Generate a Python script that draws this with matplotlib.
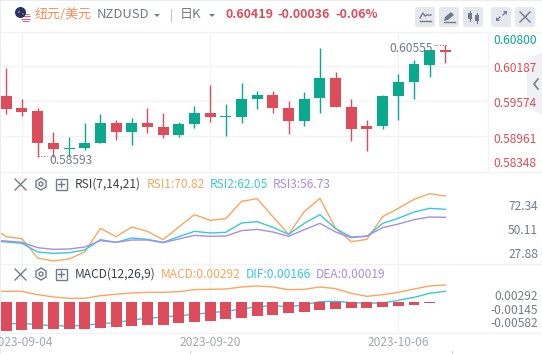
import numpy as np
import matplotlib
matplotlib.use("Agg")
import matplotlib.pyplot as plt
from matplotlib.patches import Circle, FancyBboxPatch, Polygon, Rectangle

plt.rcParams['font.family'] = ['Noto Sans CJK SC', 'DejaVu Sans']

# candles, index 0 is the first one on screen
opens  = [0.59667,0.59457,0.59405,0.58844,0.58739,0.58757,0.58844,0.59195,0.59037,0.59195,
          0.59125,0.58984,0.59177,0.59370,0.59300,0.59300,0.59615,0.59685,0.59457,0.59230,
          0.59632,0.59983,0.59475,0.59142,0.59142,0.59667,0.59913,0.60210,0.60473]
closes = [0.59440,0.59387,0.58844,0.58739,0.58757,0.58844,0.59195,0.59037,0.59195,0.59125,
          0.58984,0.59177,0.59370,0.59300,0.59317,0.59615,0.59685,0.59457,0.59230,0.59615,
          0.59983,0.59475,0.59090,0.59090,0.59667,0.59913,0.60228,0.60473,0.60438]
highs  = [0.60158,0.59615,0.59457,0.59037,0.58949,0.59195,0.59352,0.59247,0.59282,0.59457,
          0.59370,0.59212,0.59492,0.59860,0.59527,0.59895,0.59755,0.59755,0.59580,0.59737,
          0.60508,0.60088,0.59615,0.59247,0.59685,0.60053,0.60298,0.60473,0.60555]
lows   = [0.59352,0.59317,0.58593,0.58593,0.58593,0.58722,0.58844,0.58897,0.58809,0.59019,
          0.58932,0.58949,0.59107,0.59212,0.58967,0.59195,0.59440,0.59370,0.59002,0.59142,
          0.59370,0.59475,0.58879,0.58704,0.59090,0.59247,0.59615,0.60000,0.60245]

# the first entry of each line is the day just left of the screen
rsi1 = [53.76,44.63,42.80,25.14,22.40,24.23,30.62,52.24,44.63,53.46,49.50,41.89,53.46,64.73,59.55,
        61.07,76.91,79.34,62.90,46.76,67.47,79.65,52.24,40.06,42.19,62.90,70.51,78.73,83.91,81.78]
rsi2 = [40.97,39.76,38.54,30.62,29.40,30.01,32.45,41.89,39.45,43.41,42.19,39.45,44.63,49.50,47.98,
        48.59,57.11,58.33,53.16,46.76,56.81,64.73,51.94,44.32,44.93,56.81,61.38,67.16,70.51,69.60]
rsi3 = [41.58,40.67,39.45,34.58,33.06,33.36,35.19,40.98,39.45,41.58,41.58,39.15,42.50,45.85,44.93,
        45.24,50.11,51.33,48.89,44.93,51.02,56.81,48.89,43.72,45.24,52.85,56.20,60.16,62.59,62.29]

macd_line = [0.00179,0.00179,0.00179,0.00123,0.00084,0.00062,0.00062,0.00106,0.00129,0.00151,
             0.00162,0.00162,0.00174,0.00207,0.00213,0.00218,0.00252,0.00269,0.00252,0.00207,
             0.00213,0.00252,0.00224,0.00146,0.00095,0.00123,0.00162,0.00218,0.00269,0.00286]
dif_line  = [-0.00386,-0.00370,-0.00358,-0.00381,-0.00398,-0.00403,-0.00392,-0.00364,-0.00347,-0.00302,
             -0.00274,-0.00252,-0.00230,-0.00207,-0.00179,-0.00157,-0.00118,-0.00078,-0.00062,-0.00078,
             -0.00050,0.00006,0.00011,-0.00011,-0.00022,-0.00017,0.00028,0.00078,0.00146,0.00179]
macd_bars = [-0.00487,-0.00470,-0.00454,-0.00454,-0.00454,-0.00454,-0.00437,-0.00420,-0.00403,-0.00386,
             -0.00386,-0.00353,-0.00336,-0.00319,-0.00286,-0.00269,-0.00235,-0.00218,-0.00185,-0.00168,
             -0.00134,-0.00118,-0.00101,-0.00101,-0.00084,-0.00067,-0.00050,-0.00017,0.00003]

price_grid = [0.60187,0.59574,0.58961]
price_labels = ["0.60800","0.60187","0.59574","0.58961","0.58348"]
rsi_labels = ["72.34","50.11","27.88"]
macd_labels = ["0.00292","-0.00145","-0.00582"]
date_idx = [1,13,25]
date_labels = ["2023-09-04","2023-09-20","2023-10-06"]

RED = '#dc4c5a'
GREEN = '#0aa88c'
ORANGE = '#fba65a'
CYAN = '#35c8e0'
PURPLE = '#a98ce6'
GRID = '#f1f3f7'
GREY = '#757a8a'
W, H = 542, 354

fig = plt.figure(figsize=(W/100, H/100), dpi=100, facecolor='white')

def panel(top, bottom):
    a = fig.add_axes([1/W, 1-bottom/H, 487/W, (bottom-top)/H])
    a.set_xlim(-0.338, 30.72)
    a.set_xticks(date_idx)
    a.set_xticklabels([])
    a.tick_params(length=0)
    a.grid(True, axis='x', color=GRID, lw=1)
    a.set_axisbelow(True)
    for s in a.spines.values():
        s.set_visible(False)
    return a

ax_k = panel(32, 171)
ax_k.set_ylim(0.58354, 0.60788)
ax_k.set_yticks(price_grid)
ax_k.set_yticklabels([])
ax_k.grid(True, axis='y', color=GRID, lw=1)
x = np.arange(len(opens))
for i in x:
    col = GREEN if closes[i] >= opens[i] else RED
    ax_k.plot([i, i], [lows[i], highs[i]], color=col, lw=1, solid_capstyle='butt')
    bot = min(opens[i], closes[i])
    ax_k.bar(i, max(abs(closes[i]-opens[i]), 0.00006), 0.7, bot, color=col, lw=0)

ax_r = panel(172, 263)
ax_r.set_ylim(20.58, 103.7)
ax_r.set_yticks([])
xl = np.arange(-1, 29)
ax_r.plot(xl, rsi1, color=ORANGE, lw=1)
ax_r.plot(xl, rsi2, color=CYAN, lw=1)
ax_r.plot(xl, rsi3, color=PURPLE, lw=1)

ax_m = panel(264, 332)
ax_m.set_ylim(-0.00504, 0.00638)
ax_m.set_yticks([])
ax_m.plot(xl, macd_line, color=ORANGE, lw=1, zorder=2)
ax_m.plot(xl, dif_line, color=CYAN, lw=1, zorder=2)
ax_m.bar(x, macd_bars, 0.7, color=[GREEN if v > 0 else RED for v in macd_bars], lw=0, zorder=3)

# pixel overlay for header, axis text and buttons
ov = fig.add_axes([0, 0, 1, 1], facecolor='none')
ov.set_xlim(0, W)
ov.set_ylim(H, 0)
ov.axis('off')

def txt(px, py, s, c=GREY, fs=8.6, ha='left', **kw):
    ov.text(px, py, s, color=c, fontsize=fs, ha=ha, va='center', **kw)

ov.add_patch(Rectangle((0, 0), 1, H, color='#e9ecf3', lw=0))
ov.add_patch(Rectangle((0, 0), W, 1, color='#e9ecf3', lw=0))
for yy in (32, 171.5, 263.5, 332.5):
    ov.plot([1, W], [yy, yy], color=GRID, lw=1)
ov.plot([488, 488], [32, 171.5], color=GRID, lw=1)

# flag
us = Circle((26, 18), 5, color='white', lw=0)
ov.add_patch(us)
for sy in (13.5, 16, 18.5, 21):
    r = Rectangle((20, sy), 12, 1.3, color='#e8607a', lw=0)
    ov.add_patch(r)
    r.set_clip_path(us)
ov.add_patch(Circle((20.5, 12.5), 5.5, color='#1f3566', lw=0))
ov.add_patch(Circle((19, 12), 1.3, color='#d9485a', lw=0))
ov.add_patch(Circle((23, 14), 0.8, color='#e8707a', lw=0))

txt(35, 14.5, "纽元/美元", '#fb8c5a', 9.4)
txt(97, 14.5, "NZDUSD", GREY, 9.4)
ov.add_patch(Polygon([[154, 14], [160, 14], [157, 17]], color=GREY, lw=0))
ov.plot([170.5, 170.5], [9, 21], color='#c9cdd8', lw=1)
txt(180, 14.5, "日K", GREY, 9.4)
ov.add_patch(Polygon([[209, 14], [215, 14], [212, 17]], color=GREY, lw=0))
txt(225, 14.5, "0.60419", RED, 9, fontweight='bold')
txt(277, 14.5, "-0.00036", RED, 9, fontweight='bold')
txt(335, 14.5, "-0.06%", RED, 9, fontweight='bold')

# toolbar buttons
for bx in (415, 439, 463, 491, 515):
    ov.add_patch(FancyBboxPatch((bx+2, 9), 16, 16, boxstyle='round,pad=2,rounding_size=3',
                                color='#e6e8ef', lw=0))
ov.plot([420, 423, 425, 427, 431], [18, 13, 16, 15, 15], color=GREY, lw=1)
ov.plot([420, 431], [21, 21], color=GREY, lw=1)
ov.add_patch(Polygon([[444, 21], [445, 17], [451, 12], [454, 15], [448, 20]], color=GREY, lw=0))
ov.plot([444, 455], [21.5, 21.5], color=GREY, lw=1)
ov.add_patch(Rectangle((468, 13), 4, 6, color=GREY, lw=0))
ov.add_patch(Rectangle((475, 15), 4, 6, color=GREY, lw=0))
ov.plot([470, 470], [11, 21], color=GREY, lw=0.8)
ov.plot([477, 477], [13, 23], color=GREY, lw=0.8)
ov.plot([497, 500], [20, 17], color=GREY, lw=0.9)
ov.plot([503, 506], [15, 12], color=GREY, lw=0.9)
ov.add_patch(Polygon([[496, 21], [496, 17], [500, 21]], color=GREY, lw=0))
ov.add_patch(Polygon([[507, 11], [507, 15], [503, 11]], color=GREY, lw=0))
ov.plot([520, 530], [12, 22], color=GREY, lw=1)
ov.plot([520, 530], [22, 12], color=GREY, lw=1)

# collapse tab on the right
ov.add_patch(Polygon([[542, 52], [527, 60], [527, 107], [542, 115]], color='#eef0f4', lw=0))
ov.plot([538, 534, 538], [79, 84, 89], color=GREY, lw=1.2)

# price labels
for yy, s in zip([40.5, 68.5, 103.5, 139.5, 163.5], price_labels):
    c = GREEN if s == price_labels[0] else RED
    txt(493, yy, s, c, 8.6)
txt(49, 160.5, "0.58593", GREY, 8.6)
ov.plot([38, 47], [156, 156], color=GREY, lw=0.8, ls=(0, (1, 1.5)))
txt(389, 48.5, "0.60555", GREY, 8.6)
ov.plot([434, 446], [44.5, 44.5], color=GREY, lw=0.8, ls=(0, (1, 1.5)))

# RSI header and axis
ov.plot([15, 26], [179, 190], color=GREY, lw=1)
ov.plot([15, 26], [190, 179], color=GREY, lw=1)
ov.add_patch(Polygon([[41, 178], [46, 181], [46, 187], [41, 190], [36, 187], [36, 181]],
                     fc='none', ec=GREY, lw=1))
ov.add_patch(Circle((41, 184), 2, fc='none', ec=GREY, lw=1))
ov.add_patch(Rectangle((55.5, 178.5), 11, 11, fc='none', ec=GREY, lw=1))
ov.plot([58, 64], [184, 184], color=GREY, lw=1)
ov.plot([61, 61], [181, 187], color=GREY, lw=1)
txt(75, 184, "RSI(7,14,21)", '#3c3f4a', 8.6)
txt(146.5, 184, "RSI1:70.82", ORANGE, 8.6)
txt(210, 184, "RSI2:62.05", CYAN, 8.6)
txt(273, 184, "RSI3:56.73", PURPLE, 8.6)
for yy, s in zip([206, 230.7, 254.7], rsi_labels):
    txt(538, yy, s, GREY, 8.6, ha='right')

# MACD header and axis
ov.plot([15, 26], [269, 280], color=GREY, lw=1)
ov.plot([15, 26], [280, 269], color=GREY, lw=1)
ov.add_patch(Polygon([[41, 268], [46, 271], [46, 277], [41, 280], [36, 277], [36, 271]],
                     fc='none', ec=GREY, lw=1))
ov.add_patch(Circle((41, 274), 2, fc='none', ec=GREY, lw=1))
ov.add_patch(Rectangle((55.5, 268.5), 11, 11, fc='none', ec=GREY, lw=1))
ov.plot([58, 64], [274, 274], color=GREY, lw=1)
ov.plot([61, 61], [271, 277], color=GREY, lw=1)
txt(75, 274, "MACD(12,26,9)", '#3c3f4a', 8.6)
txt(161, 274, "MACD:0.00292", ORANGE, 8.6)
txt(246, 274, "DIF:0.00166", CYAN, 8.6)
txt(316, 274, "DEA:0.00019", PURPLE, 8.6)
for yy, s in zip([296.5, 310.5, 323.5], macd_labels):
    txt(538, yy, s, GREY, 8.6, ha='right')

# dates
for px, s in zip([22.3, 210.3, 398.3], date_labels):
    txt(px, 342, s, '#a3a7b3', 8.6, ha='center')
ov.plot([189.5, 189.5], [351, 354], color='#d5d8e0', lw=1)
ov.plot([451.5, 451.5], [351, 354], color='#d5d8e0', lw=1)

fig.savefig('out.png', dpi=100)
